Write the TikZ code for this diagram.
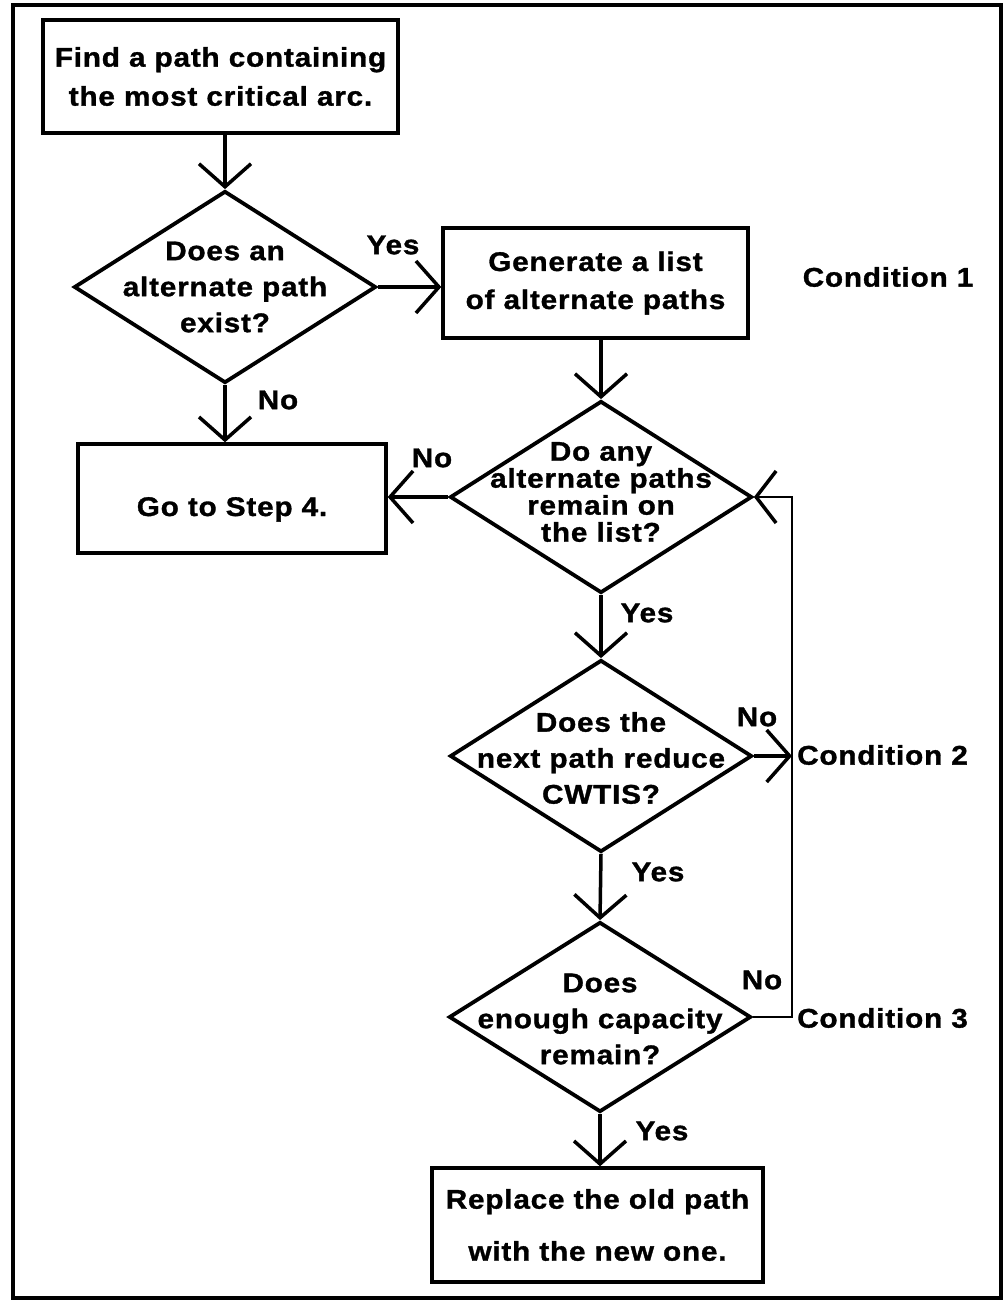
\documentclass[tikz,border=0pt]{standalone}
\usepackage{fontspec}
\usetikzlibrary{arrows.meta,shapes.geometric}
\newfontfamily\bodyfont{Liberation Sans}[FakeStretch=1.1,LetterSpace=3,FakeBold=1.2]

\tikzset{
  arr/.style={line width=3.5pt,-{Straight Barb[length=23pt,width=52pt]}},
  looparr/.style={line width=2.8pt,-{Straight Barb[length=20pt,width=52pt,line width=3.5pt]}},
  box/.style={draw,line width=3.4pt,rectangle,inner sep=0pt},
  decision/.style={draw,line width=3.8pt,shape=diamond,inner sep=0pt,
    minimum width=302pt,minimum height=192pt},
  txt/.style={font=\bodyfont\bfseries\fontsize{27pt}{#1}\selectfont,align=center,inner sep=0pt},
  lab/.style={font=\bodyfont\bfseries\fontsize{27pt}{30pt}\selectfont,inner sep=0pt},
}

\begin{document}
\begin{tikzpicture}[x=1pt,y=-1pt]
\useasboundingbox (0,0) rectangle (1005,1304);
% outer frame
\draw[line width=3.2pt] (13,5) rectangle (1001,1298);

% process boxes
\node[box,txt=39pt,minimum width=355pt,minimum height=113pt] (b1) at (220.5,76.5)
  {Find a path containing\\the most critical arc.};
\node[box,txt=38pt,minimum width=305pt,minimum height=110pt] (b2) at (595.5,283)
  {Generate a list\\of alternate paths};
\node[box,txt=30pt,text height=35pt,text depth=0pt,minimum width=308pt,minimum height=109pt] (b3) at (232,498.5)
  {Go to Step 4.};
\node[box,txt=52pt,minimum width=331pt,minimum height=114pt] (b4) at (597.5,1225)
  {Replace the old path\\with the new one.};

% decisions
\node[decision] (d1) at (225,287) {};
\node[txt=36pt] (d1t) at (d1.center) {Does an\\alternate path\\exist?};
\node[decision] (d2) at (601,497) {};
\node[txt=27pt] (d2t) at ([yshift=5pt]d2.center) {Do any\\alternate paths\\remain on\\the list?};
\node[decision] (d3) at (601,756) {};
\node[txt=36pt] (d3t) at ([yshift=-2pt]d3.center) {Does the\\next path reduce\\CWTIS?};
\node[decision,minimum height=190pt] (d4) at (600,1017) {};
\node[txt=36pt] (d4t) at ([yshift=-2pt]d4.center) {Does\\enough capacity\\remain?};

% return line on the right
\coordinate (lp) at (792,600);

% connectors
\draw[arr] (d1.north |- b1.south) -- (d1.north);
\draw[arr] (d1.east) -- (d1.east -| b2.west);
\draw[arr] (d1.south) -- (d1.south |- b3.north);
\draw[arr] (d2.north |- b2.south) -- (d2.north);
\draw[arr] (d2.west) -- (d2.west -| b3.east);
\draw[arr] (d2.south) -- (d3.north);
\draw[arr] (d3.south) -- (d4.north);
\draw[arr] (d4.south) -- (d4.south |- b4.north);
\draw[arr] (d3.east) -- (d3.east -| lp);
\draw[looparr] (d4.east) -- (d4.east -| lp) -- (d2.east -| lp) -- (d2.east);

% branch labels
\node[lab] (y1) at (393,245) {Yes};
\node[lab] (n1) at (278,400) {No};
\node[lab] (n2) at (432,458) {No};
\node[lab] (y2) at (647,613) {Yes};
\node[lab] (n3) at (757,717) {No};
\node[lab] (y3) at (658,872) {Yes};
\node[lab] (n4) at (762,980) {No};
\node[lab] (y4) at (662,1131) {Yes};

% condition notes
\node[lab] (c1) at (888,277) {Condition 1};
\node[lab,anchor=west] (c2) at (797,755) {Condition 2};
\node[lab,anchor=west] (c3) at (797,1018) {Condition 3};
\end{tikzpicture}
\end{document}
